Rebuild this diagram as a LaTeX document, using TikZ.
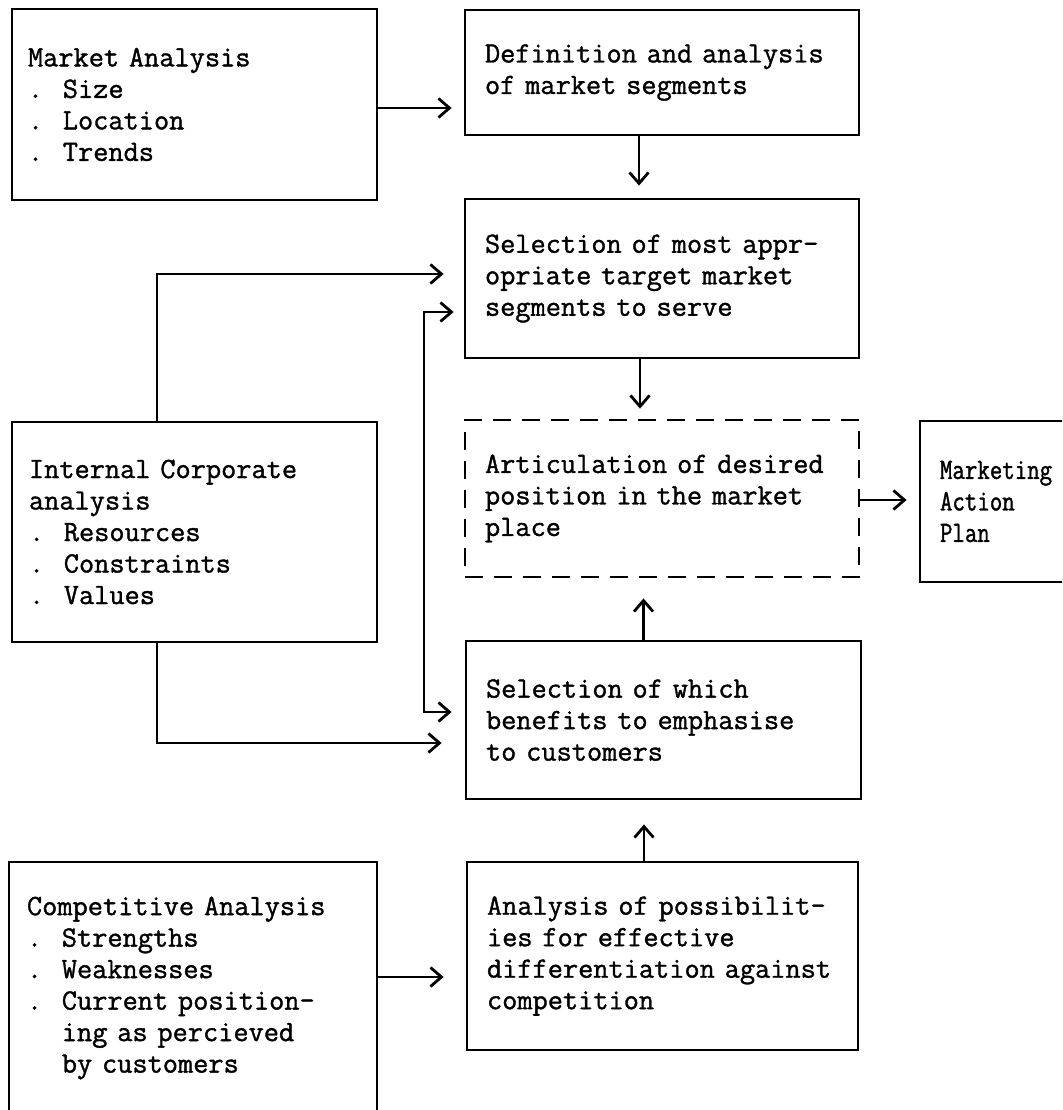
\documentclass[tikz,border=0pt]{standalone}
\usepackage{fontspec}
\newfontfamily\boxfont[FakeBold=1.2]{Latin Modern Mono}
\newfontfamily\narrowfont[FakeBold=1.2,FakeStretch=0.82]{Latin Modern Mono}
\usetikzlibrary{arrows.meta}
\hbadness=10000 \hfuzz=50pt
\begin{document}
\begin{tikzpicture}[x=1pt,y=-1pt,
  box/.style={draw, line width=2.8pt, rectangle, inner ysep=0pt, align=left,
    font=\boxfont\fontsize{29.5pt}{31.5pt}\selectfont},
  dashedbox/.style={box, dash pattern=on 18pt off 11pt},
  narrowbox/.style={box, font=\narrowfont\fontsize{29.5pt}{31.5pt}\selectfont},
  barb/.tip={Straight Barb[length=11pt,width=19pt]},
  arr/.style={line width=2.8pt, -barb},
  dblarr/.style={line width=2.8pt, barb-barb}
]
\useasboundingbox (0,0) rectangle (1062,1110);
\clip (0,0) rectangle (1062,1110);

% left column
\node[box, minimum width=365pt, minimum height=191pt, text width=333pt, inner xsep=16pt]
  (ma) at (194.5,104.5)
  {Market Analysis\\ .~~Size\\ .~~Location\\ .~~Trends};
\node[box, minimum width=365pt, minimum height=220pt, text width=331pt, inner xsep=17pt]
  (ica) at (194.5,532)
  {Internal Corporate\\ analysis\\ .~~Resources\\ .~~Constraints\\ .~~Values};
\node[box, minimum width=368pt, minimum height=252pt, text width=332pt, inner xsep=18pt]
  (comp) at (193,988)
  {Competitive Analysis\\ .~~Strengths\\ .~~Weaknesses\\ .~~Current position-\\
   \phantom{.~~}ing as percieved\\ \phantom{.~~}by customers};

% middle column
\node[box, minimum width=394pt, minimum height=125pt, text width=354pt, inner xsep=20pt]
  (def) at (662,72.5)
  {\mbox{Definition and analysis}\\ of market segments};
\node[box, minimum width=394pt, minimum height=159pt, text width=354pt, inner xsep=20pt]
  (sel) at (662,278.5)
  {\mbox{Selection of most appr-}\\ opriate target market\\ segments to serve};
\node[dashedbox, minimum width=394pt, minimum height=157pt, text width=354pt, inner xsep=20pt]
  (pos) at (662,498.5)
  {\mbox{Articulation of desired}\\ position in the market\\ place};
\node[box, minimum width=395pt, minimum height=158pt, text width=355pt, inner xsep=20pt]
  (ben) at (663.5,720)
  {Selection of which\\ benefits to emphasise\\ to customers};
\node[box, minimum width=391pt, minimum height=188pt, text width=351pt, inner xsep=20pt]
  (diff) at (662.5,956)
  {\mbox{Analysis of possibilit-}\\ ies for effective\\ \mbox{differentiation against}\\ competition};

% right column
\node[narrowbox, minimum width=160pt, minimum height=161pt, text width=120pt, inner xsep=20pt]
  (map) at (1000,501.5)
  {Marketing\\ Action\\ Plan};

% connector anchor points
\coordinate (ma1) at ([yshift=-3.5pt]ma.east);
\coordinate (d1) at ([xshift=-23pt]def.south);
\coordinate (s1) at ([xshift=-22pt]sel.south);
\coordinate (p1) at ([yshift=-1.5pt]pos.east);
\coordinate (b1) at ([xshift=-20pt]ben.north);
\coordinate (f1) at ([xshift=-18.5pt]diff.north);
\coordinate (k1) at ([yshift=11pt]comp.east);
\coordinate (i1) at ([xshift=-37.5pt]ica.north);
\coordinate (s2) at ([yshift=4.5pt]sel.west);
\coordinate (i2) at ([xshift=-37.5pt]ica.south);
\coordinate (b2) at ([yshift=-23pt]ben.west);
\coordinate (s3) at ([yshift=-33.5pt]sel.west);
\coordinate (b3) at ([yshift=8pt]ben.west);
\coordinate (bend) at (424,0);

% connectors
\draw[arr, shorten >=12pt] (ma1) -- (ma1 -| def.west);
\draw[arr, shorten >=12pt] (d1) -- (d1 |- sel.north);
\draw[arr, shorten >=10pt] (s1) -- (s1 |- pos.north);
\draw[arr, shorten >=12pt] (p1) -- (p1 -| map.west);
\draw[arr, shorten >=20pt] (b1) -- (b1 |- pos.south);
\draw[arr, shorten >=24pt] (f1) -- (f1 |- ben.south);
\draw[arr, shorten >=22pt] (k1) -- (k1 -| diff.west);
\draw[arr, shorten >=20pt] (i1) |- (s2);
\draw[arr, shorten >=23pt] (i2) |- (b2);
\draw[dblarr, shorten <=10pt, shorten >=13pt]
  (s3) -- (s3 -| bend) -- (b3 -| bend) -- (b3);
\end{tikzpicture}
\end{document}
